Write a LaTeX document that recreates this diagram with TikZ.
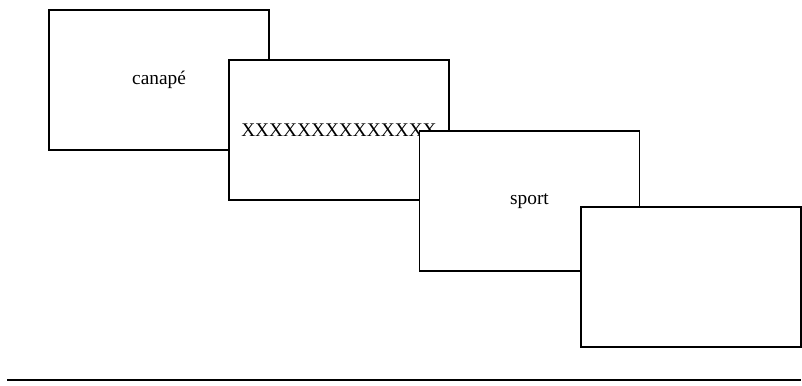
\documentclass[tikz,border=0pt]{standalone}
\usepackage{fontspec}
\setmainfont{Liberation Serif}
\begin{document}
\begin{tikzpicture}[x=0.75pt,y=-0.75pt,
  carte/.style={draw, fill=white, line width=1.1pt, inner sep=0pt,
    minimum width=165pt, minimum height=105pt,
    font=\fontsize{14.5}{17}\selectfont}]

\useasboundingbox (0,0) rectangle (802,385);

% Cartes (de la premiere a la derniere)
  \node[carte] (canape) at (159,80) {canapé};
  \node[carte] (masque) at (339,130) {XXXXXXXXXXXXXX};
  \node[carte] (sport) at (529.5,201) {sport};
  \node[carte] (vide) at (691,277) {};

% Ligne du bas
  \draw[line width=1.1pt] (7,380) -- (801,380);

\end{tikzpicture}
\end{document}
